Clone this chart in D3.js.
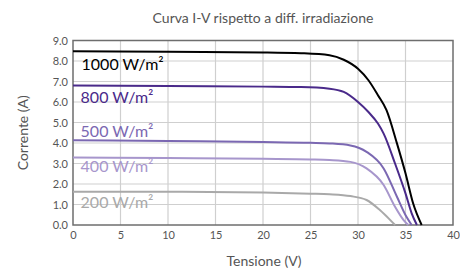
<!DOCTYPE html>
<html>
<head>
<meta charset="utf-8">
<script src="https://cdn.jsdelivr.net/npm/d3@7"></script>
<style>
  body { margin: 0; background: #fff; }
  svg text { font-family: Lato, "Open Sans", sans-serif; }
</style>
</head>
<body>
<div id="chart"></div>
<script>
const width = 460;
const height = 270;
const margin = { top: 40.5, right: 7, bottom: 45, left: 73 };

// tick labels
const xTicks = [0, 5, 10, 15, 20, 25, 30, 35, 40];
const yTicks = [0, 1, 2, 3, 4, 5, 6, 7, 8, 9];

// series: irradiance labels + colours
const seriesNames = ['1000 W/m²', '800 W/m²', '500 W/m²', '400 W/m²', '200 W/m²'];
const seriesColors = ['#000000', '#4a2a8a', '#7b68b2', '#a796cc', '#a9a9a9'];

// voltage (V) and current (A)
const v1000 = [0, 10, 20, 24, 27, 28.5, 30, 31.1, 32.1, 33, 34.1, 35, 35.8, 36.7];
const i1000 = [8.47, 8.45, 8.42, 8.38, 8.28, 8.06, 7.62, 7.06, 6.33, 5.6, 3.98, 2.52, 1.06, 0];

const v800 = [0, 10, 20, 24, 27, 28.5, 30, 31.1, 32.1, 32.7, 33.9, 35, 35.65, 36.2];
const i800 = [6.81, 6.78, 6.75, 6.73, 6.65, 6.49, 6.0, 5.51, 4.95, 4.46, 3.0, 1.54, 0.57, 0];

const v500 = [0, 10, 20, 25, 27, 29.2, 30.9, 32.7, 34.1, 35.1, 35.65];
const i500 = [4.14, 4.10, 4.05, 4.01, 3.98, 3.88, 3.57, 2.76, 1.38, 0.4, 0];

const v400 = [0, 10, 20, 25, 27, 29.2, 30.9, 32.7, 33.9, 34.8, 35.3];
const i400 = [3.29, 3.27, 3.23, 3.2, 3.17, 3.08, 2.76, 1.95, 0.89, 0.24, 0];

const v200 = [0, 10, 20, 25, 27, 29.2, 30.9, 32.3, 33.4, 33.9];
const i200 = [1.62, 1.62, 1.58, 1.53, 1.5, 1.41, 1.22, 0.73, 0.24, 0];

const voltages = [v1000, v800, v500, v400, v200];
const currents = [i1000, i800, i500, i400, i200];

// label placement (data coords of the label baseline start)
const labelPos = [[0.9, 7.55], [0.8, 5.95], [0.8, 4.3], [0.8, 2.6], [0.8, 0.85]];

const svg = d3.select('#chart')
    .append('svg')
    .attr('width', width)
    .attr('height', height);

const x = d3.scaleLinear().domain([0, 40]).range([margin.left, width - margin.right]);
const y = d3.scaleLinear().domain([0, 9]).range([height - margin.bottom, margin.top]);

// grid
svg.append('g')
    .selectAll('line.v')
    .data(xTicks.slice(1, -1))
    .enter()
    .append('line')
    .attr('x1', d => x(d)).attr('x2', d => x(d))
    .attr('y1', y(0)).attr('y2', y(9))
    .attr('stroke', '#cfcfcf')
    .attr('stroke-width', 1.2);

svg.append('g')
    .selectAll('line.h')
    .data(yTicks.slice(1, -1))
    .enter()
    .append('line')
    .attr('x1', x(0)).attr('x2', x(40))
    .attr('y1', d => y(d)).attr('y2', d => y(d))
    .attr('stroke', '#cfcfcf')
    .attr('stroke-width', 1.2);

// frame
svg.append('rect')
    .attr('x', x(0)).attr('y', y(9))
    .attr('width', x(40) - x(0))
    .attr('height', y(0) - y(9))
    .attr('fill', 'none')
    .attr('stroke', '#6e6e6e')
    .attr('stroke-width', 1.5);

// axes labels
const xAxis = d3.axisBottom(x).tickValues(xTicks).tickSize(0).tickPadding(6);
const gx = svg.append('g').attr('transform', `translate(0,${y(0)})`).call(xAxis);
gx.select('.domain').remove();
gx.selectAll('text').attr('fill', '#555').style('font-size', '11px');

const yAxis = d3.axisLeft(y).tickValues(yTicks).tickSize(0).tickPadding(5).tickFormat(d3.format('.1f'));
const gy = svg.append('g').attr('transform', `translate(${x(0)},0)`).call(yAxis);
gy.select('.domain').remove();
gy.selectAll('text').attr('fill', '#555').style('font-size', '11px');

// curves
const line = d3.line()
    .x(d => x(d[0]))
    .y(d => y(d[1]))
    .curve(d3.curveMonotoneX);

voltages.forEach((vs, k) => {
    const pts = vs.map((v, j) => [v, currents[k][j]]);
    svg.append('path')
        .datum(pts)
        .attr('d', line)
        .attr('fill', 'none')
        .attr('stroke', seriesColors[k])
        .attr('stroke-width', 2);
});

// series labels
svg.append('g')
    .selectAll('text')
    .data(seriesNames)
    .enter()
    .append('text')
    .attr('x', (d, k) => x(labelPos[k][0]))
    .attr('y', (d, k) => y(labelPos[k][1]))
    .attr('fill', (d, k) => seriesColors[k])
    .style('font-size', '16px')
    .text(d => d);

// titles
svg.append('text')
    .attr('x', 263).attr('y', 23)
    .attr('text-anchor', 'middle')
    .attr('fill', '#555')
    .style('font-size', '14px')
    .text('Curva I-V rispetto a diff. irradiazione');

svg.append('text')
    .attr('x', 264).attr('y', 266)
    .attr('text-anchor', 'middle')
    .attr('fill', '#555')
    .style('font-size', '14px')
    .text('Tensione (V)');

svg.append('text')
    .attr('transform', `translate(28,${(y(0) + y(9)) / 2}) rotate(-90)`)
    .attr('text-anchor', 'middle')
    .attr('fill', '#555')
    .style('font-size', '14px')
    .text('Corrente (A)');
</script>
</body>
</html>
